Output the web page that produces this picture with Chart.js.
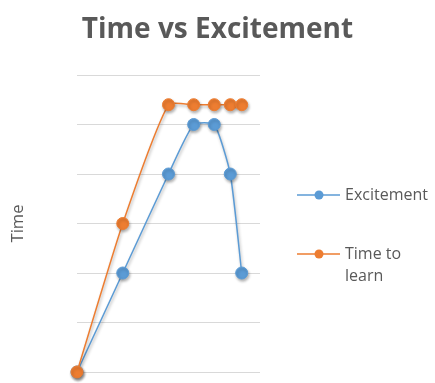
<!DOCTYPE html>
<html>
<head>
<meta charset="utf-8">
<script src="https://cdn.jsdelivr.net/npm/chart.js@4/dist/chart.umd.min.js"></script>
<style>
html,body{margin:0;padding:0;background:#fff;}
#wrap{position:relative;width:435px;height:383px;}
</style>
</head>
<body>
<div id="wrap"><canvas id="c" width="435" height="383"></canvas></div>
<script>
const chartTitle = "Time vs Excitement";
const yAxisTitle = "Time";
const seriesNames = ["Excitement", ["Time to", "learn"]];
const xValues = [0, 1, 2, 2.55, 3, 3.35, 3.6];
const excitement = [0, 2, 4, 5, 5, 4, 2];
const timeToLearn = [0, 3, 5.4, 5.4, 5.4, 5.4, 5.4];
const colors = ["#5B9BD5", "#ED7D31"];

const toPoints = arr => arr.map((v, i) => ({x: xValues[i], y: v}));

const FONT = "'Open Sans', 'Liberation Sans', sans-serif";

const shadowPlugin = {
  id: 'shadow',
  beforeDatasetsDraw(chart) {
    const ctx = chart.ctx;
    ctx.save();
    ctx.shadowColor = 'rgba(0,0,0,0.3)';
    ctx.shadowBlur = 3;
    ctx.shadowOffsetX = 1;
    ctx.shadowOffsetY = 2;
  },
  afterDatasetsDraw(chart) {
    chart.ctx.restore();
  }
};

const legendPlugin = {
  id: 'sideLegend',
  afterDraw(chart) {
    const ctx = chart.ctx;
    const ys = [195, 254];
    ctx.save();
    chart.data.datasets.forEach((ds, i) => {
      const y = ys[i];
      ctx.strokeStyle = ds.borderColor;
      ctx.lineWidth = 1.5;
      ctx.beginPath();
      ctx.moveTo(297, y);
      ctx.lineTo(340, y);
      ctx.stroke();
      ctx.fillStyle = ds.backgroundColor;
      ctx.beginPath();
      ctx.arc(319, y, 4.5, 0, Math.PI * 2);
      ctx.fill();
      ctx.fillStyle = '#595959';
      ctx.font = "16px " + FONT;
      ctx.textBaseline = 'middle';
      const lines = Array.isArray(ds.label) ? ds.label : [ds.label];
      lines.forEach((t, j) => ctx.fillText(t, 345, y + j * 22));
    });
    ctx.restore();
  }
};

new Chart(document.getElementById('c'), {
  type: 'scatter',
  data: {
    datasets: [
      {
        label: seriesNames[0],
        data: toPoints(excitement),
        borderColor: colors[0],
        backgroundColor: colors[0],
        showLine: true,
        tension: 0.18,
        borderWidth: 1.5,
        pointRadius: 6,
        pointHoverRadius: 6,
        pointBorderWidth: 1,
        clip: false,
        order: 1
      },
      {
        label: seriesNames[1],
        data: toPoints(timeToLearn),
        borderColor: colors[1],
        backgroundColor: colors[1],
        showLine: true,
        tension: 0.18,
        borderWidth: 1.5,
        pointRadius: 6,
        pointHoverRadius: 6,
        pointBorderWidth: 1,
        clip: false,
        order: 0
      }
    ]
  },
  options: {
    responsive: false,
    animation: false,
    layout: {padding: {left: 0, right: 0, top: 0, bottom: 11}},
    plugins: {
      legend: {display: false},
      tooltip: {enabled: false},
      title: {
        display: true,
        text: chartTitle,
        color: '#595959',
        font: {family: FONT, size: 28, weight: 'bold'},
        padding: {top: 13, bottom: 28.4}
      }
    },
    scales: {
      x: {type: 'linear', min: 0, max: 4, display: false},
      y: {
        min: 0, max: 6,
        ticks: {display: false, stepSize: 1},
        grid: {color: '#D9D9D9', lineWidth: 1, drawTicks: false},
        border: {display: false},
        title: {
          display: true,
          text: yAxisTitle,
          color: '#595959',
          font: {family: FONT, size: 16.5},
          padding: {top: 8, bottom: 0}
        },
        afterFit(scale) { scale.width = 77; }
      },
      yRight: {
        position: 'right',
        min: 0, max: 6,
        ticks: {display: false},
        grid: {display: false, drawTicks: false},
        border: {display: false},
        afterFit(scale) { scale.width = 175; }
      }
    }
  },
  plugins: [shadowPlugin, legendPlugin]
});
</script>
</body>
</html>
